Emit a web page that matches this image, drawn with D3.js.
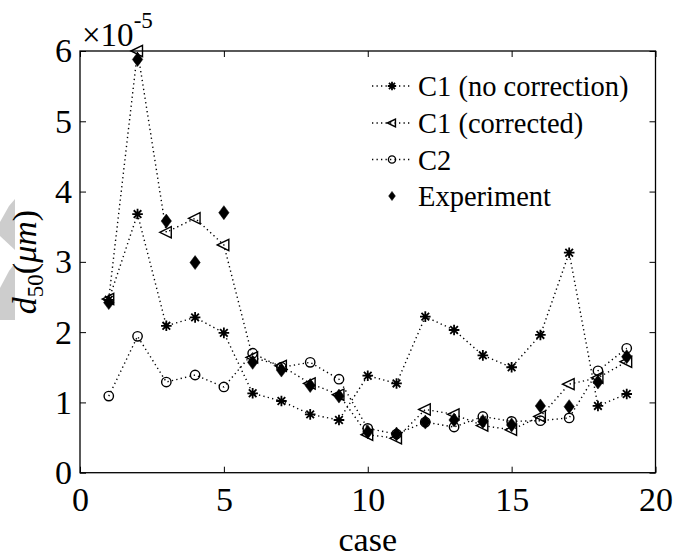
<!DOCTYPE html>
<html>
<head>
<meta charset="utf-8">
<script src="https://cdn.jsdelivr.net/npm/d3@7/dist/d3.min.js"></script>
<style>
  body { margin: 0; background: #fff; }
  svg { display: block; }
</style>
</head>
<body>
<svg id="chart" width="677" height="557"></svg>
<script>
// d50 per case, in units of 1e-5
const cases = [1, 2, 3, 4, 5, 6, 7, 8, 9, 10, 11, 12, 13, 14, 15, 16, 17, 18, 19];
const c1NoCorrection = [2.46, 3.68, 2.09, 2.21, 1.99, 1.13, 1.02, 0.83, 0.75, 1.38, 1.27, 2.22, 2.03, 1.67, 1.50, 1.96, 3.13, 0.95, 1.12];
const c1Corrected    = [2.47, 6.00, 3.42, 3.62, 3.24, 1.64, 1.52, 1.27, 1.11, 0.54, 0.49, 0.90, 0.83, 0.67, 0.61, 0.80, 1.26, 1.35, 1.58];
const c2             = [1.09, 1.94, 1.29, 1.39, 1.22, 1.70, 1.50, 1.57, 1.33, 0.63, 0.55, 0.72, 0.65, 0.80, 0.73, 0.74, 0.78, 1.45, 1.77];
const experiment     = [2.42, 5.88, 3.58, 2.99, 3.70, 1.57, 1.46, 1.24, 1.09, 0.58, 0.55, 0.72, 0.75, 0.73, 0.68, 0.95, 0.94, 1.29, 1.65];

const xTicks = [0, 5, 10, 15, 20];
const yTicks = [0, 1, 2, 3, 4, 5, 6];
const legendLabels = ["C1 (no correction)", "C1 (corrected)", "C2", "Experiment"];

const FONT = '"Liberation Serif", serif';

const svg = d3.select("#chart");
const W = 677, H = 557;
const plot = { left: 80, right: 655.5, top: 51, bottom: 472.7 };

const x = d3.scaleLinear().domain([0, 20]).range([plot.left, plot.right]);
const y = d3.scaleLinear().domain([0, 6]).range([plot.bottom, plot.top]);

svg.append("rect").attr("width", W).attr("height", H).attr("fill", "#fff");

// faint grey chevrons at the left margin
const deco = svg.append("g").attr("fill", "#cdcdcd");
deco.append("polygon").attr("points", "15,199 9,206 0,222 0,236 15,250");
deco.append("polygon").attr("points", "15,263 9,271 0,288 0,320 15,320");

// axes: ticks inside, mirrored on top and right
const tickLen = 6;
const axisFont = 34;

const gBottom = svg.append("g").attr("transform", `translate(0,${plot.bottom})`)
  .call(d3.axisBottom(x).tickValues(xTicks).tickSize(-tickLen).tickPadding(14).tickFormat(d3.format("d")));
const gLeft = svg.append("g").attr("transform", `translate(${plot.left},0)`)
  .call(d3.axisLeft(y).tickValues(yTicks).tickSize(-tickLen).tickPadding(8).tickFormat(d3.format("d")));
const gTop = svg.append("g").attr("transform", `translate(0,${plot.top})`)
  .call(d3.axisTop(x).tickValues(xTicks).tickSize(-tickLen).tickFormat(""));
const gRight = svg.append("g").attr("transform", `translate(${plot.right},0)`)
  .call(d3.axisRight(y).tickValues(yTicks).tickSize(-tickLen).tickFormat(""));

[gBottom, gLeft, gTop, gRight].forEach(g => {
  g.select(".domain").remove();
  g.selectAll("line").attr("stroke", "#000").attr("stroke-width", 1);
  g.selectAll("text").attr("fill", "#000").style("font-size", axisFont + "px");
});
gBottom.selectAll("text").attr("dy", "0.71em");

svg.append("rect")
  .attr("x", plot.left).attr("y", plot.top)
  .attr("width", plot.right - plot.left).attr("height", plot.bottom - plot.top)
  .attr("fill", "none").attr("stroke", "#000").attr("stroke-width", 1.3);

// axis titles
svg.append("text")
  .attr("x", (plot.left + plot.right) / 2).attr("y", 551)
  .attr("text-anchor", "middle").style("font-size", "34px")
  .text("case");

const yLab = svg.append("text")
  .attr("transform", `translate(36,262) rotate(-90)`)
  .attr("text-anchor", "middle").style("font-size", "34px");
yLab.append("tspan").style("font-style", "italic").text("d");
yLab.append("tspan").attr("dy", 7).style("font-size", "23px").text("50");
yLab.append("tspan").attr("dy", -7).text("(");
yLab.append("tspan").style("font-style", "italic").text("μm");
yLab.append("tspan").text(")");

// exponent label
const expo = svg.append("text").attr("x", 82).attr("y", 46).style("font-size", "33px");
expo.append("tspan").text("×10");
expo.append("tspan").attr("dy", -18).style("font-size", "23px").text("-5");

// marker shapes
function asterisk(g, r, sw) {
  const a = r * 0.72;
  g.append("path")
    .attr("d", `M${-r},0L${r},0M0,${-r}L0,${r}M${-a},${-a}L${a},${a}M${-a},${a}L${a},${-a}`)
    .attr("stroke", "#000").attr("stroke-width", sw).attr("fill", "none");
}
function triangleLeft(g, r, sw) {
  g.append("path")
    .attr("d", `M${-r},0L${r * 0.75},${-r * 0.85}L${r * 0.75},${r * 0.85}Z`)
    .attr("stroke", "#000").attr("stroke-width", sw).attr("fill", "none");
}
function circle(g, r, sw) {
  g.append("circle").attr("r", r)
    .attr("stroke", "#000").attr("stroke-width", sw).attr("fill", "none");
}
function diamond(g, r, sw) {
  const w = r * 0.74;
  g.append("path")
    .attr("d", `M0,${-r}L${w},0L0,${r}L${-w},0Z`)
    .attr("fill", "#000").attr("stroke", "#000").attr("stroke-width", sw);
}

const series = [
  { values: c1NoCorrection, line: true, marker: asterisk, size: 5.3, sw: 1.8, legendSize: 4.2 },
  { values: c1Corrected,    line: true, marker: triangleLeft, size: 6.6, sw: 1.4, legendSize: 4.6 },
  { values: c2,             line: true, marker: circle, size: 4.7, sw: 1.4, legendSize: 3.6 },
  { values: experiment,     line: false, marker: diamond, size: 7, sw: 0.5, legendSize: 4.6 }
];

const lineGen = d3.line().x(d => x(d[0])).y(d => y(d[1]));
const dots = "1.3,3.2";

series.forEach(s => {
  const pts = cases.map((c, i) => [c, s.values[i]]);
  const g = svg.append("g");
  if (s.line) {
    g.append("path").datum(pts).attr("d", lineGen)
      .attr("fill", "none").attr("stroke", "#000")
      .attr("stroke-width", 1.4).attr("stroke-dasharray", dots);
  }
  pts.forEach(p => {
    const m = g.append("g").attr("transform", `translate(${x(p[0])},${y(p[1])})`);
    s.marker(m, s.size, s.sw);
  });
});

// legend
const legRows = [86, 123, 159.5, 196];
const legX = 392;
const leg = svg.append("g");
series.forEach((s, i) => {
  const cy = legRows[i];
  if (s.line) {
    leg.append("line").attr("x1", legX - 20).attr("x2", legX + 20)
      .attr("y1", cy).attr("y2", cy)
      .attr("stroke", "#000").attr("stroke-width", 1.4).attr("stroke-dasharray", dots);
  }
  const m = leg.append("g").attr("transform", `translate(${legX},${cy})`);
  s.marker(m, s.legendSize, s.sw);
  leg.append("text").attr("x", 418).attr("y", cy + 10)
    .style("font-size", "28.5px").text(legendLabels[i]);
});

// serif type throughout
svg.selectAll("text").style("font-family", FONT).attr("fill", "#000");
</script>
</body>
</html>
